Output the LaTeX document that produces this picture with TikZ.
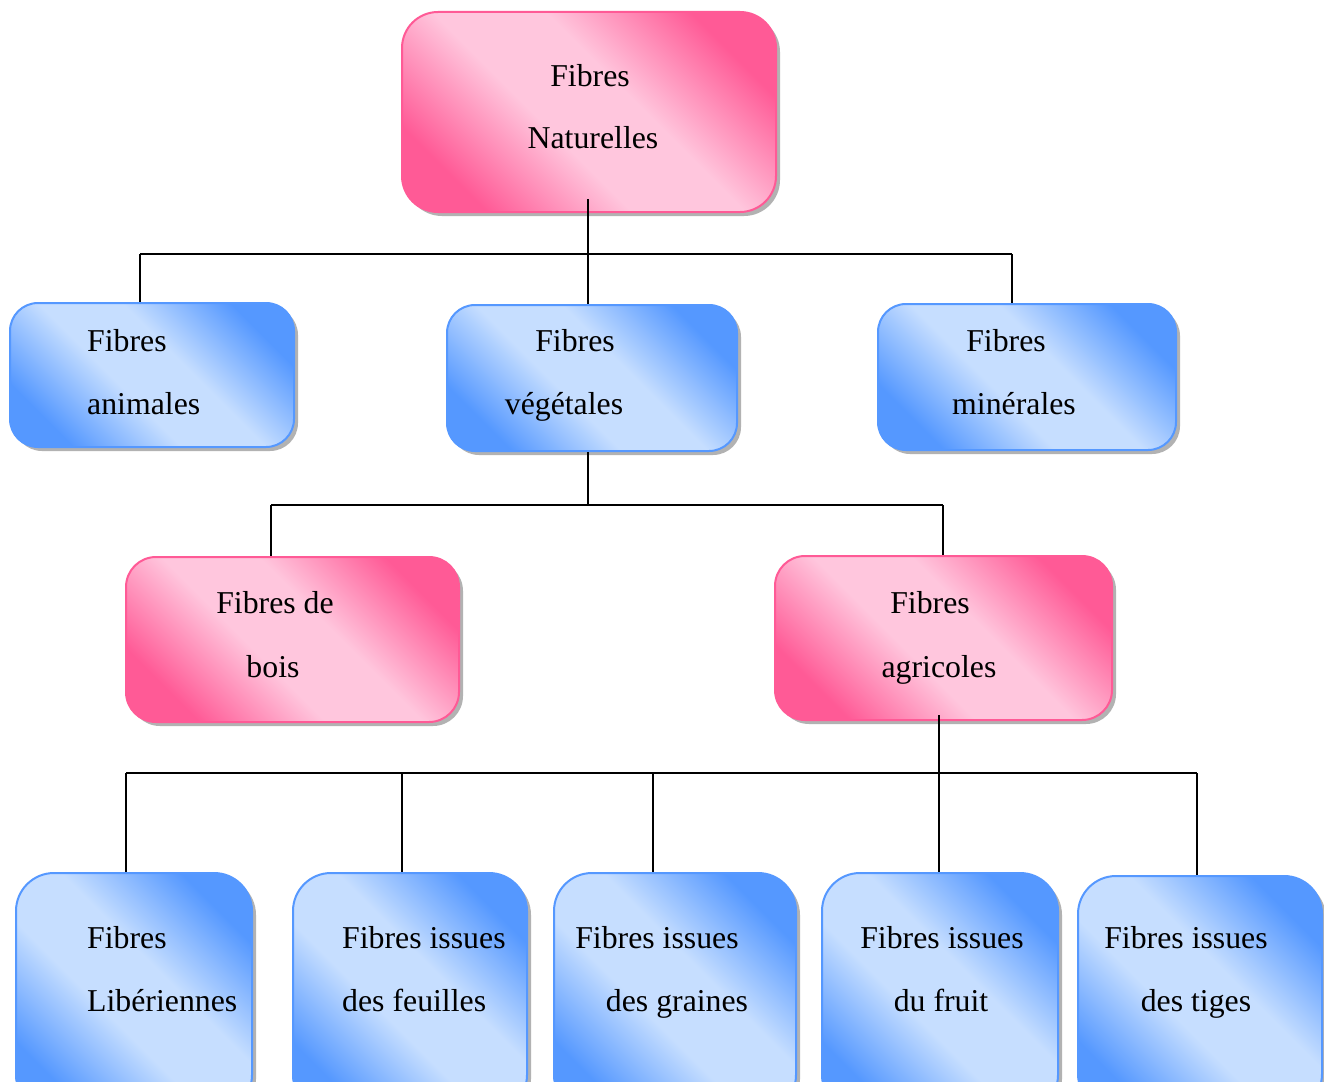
\documentclass[tikz,border=0pt]{standalone}
\usepackage{fontspec}
\setmainfont{Liberation Serif}
\usetikzlibrary{shadows}
\definecolor{pinkD}{HTML}{FF5A96}
\definecolor{pinkL}{HTML}{FFC6DD}
\definecolor{blueD}{HTML}{5598FF}
\definecolor{blueL}{HTML}{C6DEFF}
\pgfdeclareverticalshading{pinkdiag}{100bp}{color(0bp)=(pinkD); color(25bp)=(pinkD); color(43bp)=(pinkL); color(57bp)=(pinkL); color(75bp)=(pinkD); color(100bp)=(pinkD)}
\pgfdeclareverticalshading{bluediag}{100bp}{color(0bp)=(blueD); color(25bp)=(blueD); color(43bp)=(blueL); color(57bp)=(blueL); color(75bp)=(blueD); color(100bp)=(blueD)}
\tikzset{
  basebox/.style={rectangle, inner sep=0pt, line width=2pt,
    drop shadow={shadow xshift=4pt, shadow yshift=-4pt, fill=black!55, opacity=0.55}},
  pinkbox/.style={basebox, draw=pinkD, shade, shading=pinkdiag, shading angle=-45, rounded corners=#1},
  bluebox/.style={basebox, draw=blueD, shade, shading=bluediag, shading angle=-45, rounded corners=#1},
  txt/.style={inner sep=0pt, anchor=base, font=\fontsize{31.8}{38}\selectfont, text=black},
  conn/.style={draw=black, line width=2.2pt}
}
\begin{document}
\begin{tikzpicture}[x=1pt,y=-1pt]
\useasboundingbox (0,0) rectangle (1324,1081);
\clip (0,0) rectangle (1324,1081);
\fill[white] (0,0) rectangle (1324,1081);

% boxes
\node[pinkbox=36pt, minimum width=374pt, minimum height=200pt] (nat) at (589,112) {};
\node[bluebox=28pt, minimum width=284pt, minimum height=144pt] (anim) at (152,375) {};
\node[bluebox=28pt, minimum width=290pt, minimum height=146pt] (veg) at (592,378) {};
\node[bluebox=28pt, minimum width=298pt, minimum height=146pt] (mine) at (1027,377) {};
\node[pinkbox=30pt, minimum width=333pt, minimum height=165pt] (bois) at (292.5,639.5) {};
\node[pinkbox=30pt, minimum width=337pt, minimum height=164pt] (agri) at (943.5,638) {};
\node[bluebox=38pt, minimum width=236pt, minimum height=240pt] (lib) at (134,993) {};
\node[bluebox=38pt, minimum width=234pt, minimum height=240pt] (feu) at (410,993) {};
\node[bluebox=38pt, minimum width=242pt, minimum height=240pt] (gra) at (675,993) {};
\node[bluebox=38pt, minimum width=236pt, minimum height=240pt] (fru) at (940,993) {};
\node[bluebox=38pt, minimum width=244pt, minimum height=236pt] (tig) at (1200,994) {};

% texts
\node[txt] (natA) at (590,86) {Fibres};
\node[txt] (natB) at (593,148) {Naturelles};
\node[txt, anchor=base west] (animA) at (87,351) {Fibres};
\node[txt, anchor=base west] (animB) at (87,414) {animales};
\node[txt] (vegA) at (575,351) {Fibres};
\node[txt] (vegB) at (564,414) {végétales};
\node[txt] (minA) at (1006,351) {Fibres};
\node[txt] (minB) at (1014,414) {minérales};
\node[txt] (boisA) at (275,613) {Fibres de};
\node[txt] (boisB) at (273,677) {bois};
\node[txt] (agriA) at (930,613) {Fibres};
\node[txt] (agriB) at (939,677) {agricoles};
\node[txt, anchor=base west] (libA) at (87,948) {Fibres};
\node[txt, anchor=base west] (libB) at (87,1011) {Libériennes};
\node[txt, anchor=base west] (feuA) at (342,948) {Fibres issues};
\node[txt, anchor=base west] (feuB) at (342,1011) {des feuilles};
\node[txt] (graA) at (657,948) {Fibres issues};
\node[txt] (graB) at (677,1011) {des graines};
\node[txt] (fruA) at (942,948) {Fibres issues};
\node[txt] (fruB) at (941,1011) {du fruit};
\node[txt] (tigA) at (1186,948) {Fibres issues};
\node[txt] (tigB) at (1196,1011) {des tiges};

% connectors level 1
\coordinate (aL) at (140,254);
\coordinate (aM) at (588,254);
\coordinate (aR) at (1012,254);
\draw[conn] (aM |- nat.south) ++(0,-14) -- (aM);
\draw[conn] (aL) -- (aR);
\draw[conn] (aL) -- (aL |- anim.north);
\draw[conn] (aM) -- (aM |- veg.north);
\draw[conn] (aR) -- (aR |- mine.north);

% connectors level 2
\coordinate (bL) at (271,505);
\coordinate (bM) at (588,505);
\coordinate (bR) at (943,505);
\draw[conn] (bM |- veg.south) -- (bM);
\draw[conn] (bL) -- (bR);
\draw[conn] (bL) -- (bL |- bois.north);
\draw[conn] (bR) -- (bR |- agri.north);

% connectors level 3
\coordinate (c1) at (126,773);
\coordinate (c2) at (402,773);
\coordinate (c3) at (653,773);
\coordinate (c4) at (939,773);
\coordinate (c5) at (1197,773);
\draw[conn] (c4 |- agri.south) ++(0,-6) -- (c4);
\draw[conn] (c1) -- (c5);
\draw[conn] (c1) -- (c1 |- lib.north);
\draw[conn] (c2) -- (c2 |- feu.north);
\draw[conn] (c3) -- (c3 |- gra.north);
\draw[conn] (c4) -- (c4 |- fru.north);
\draw[conn] (c5) -- (c5 |- tig.north);
\end{tikzpicture}
\end{document}
